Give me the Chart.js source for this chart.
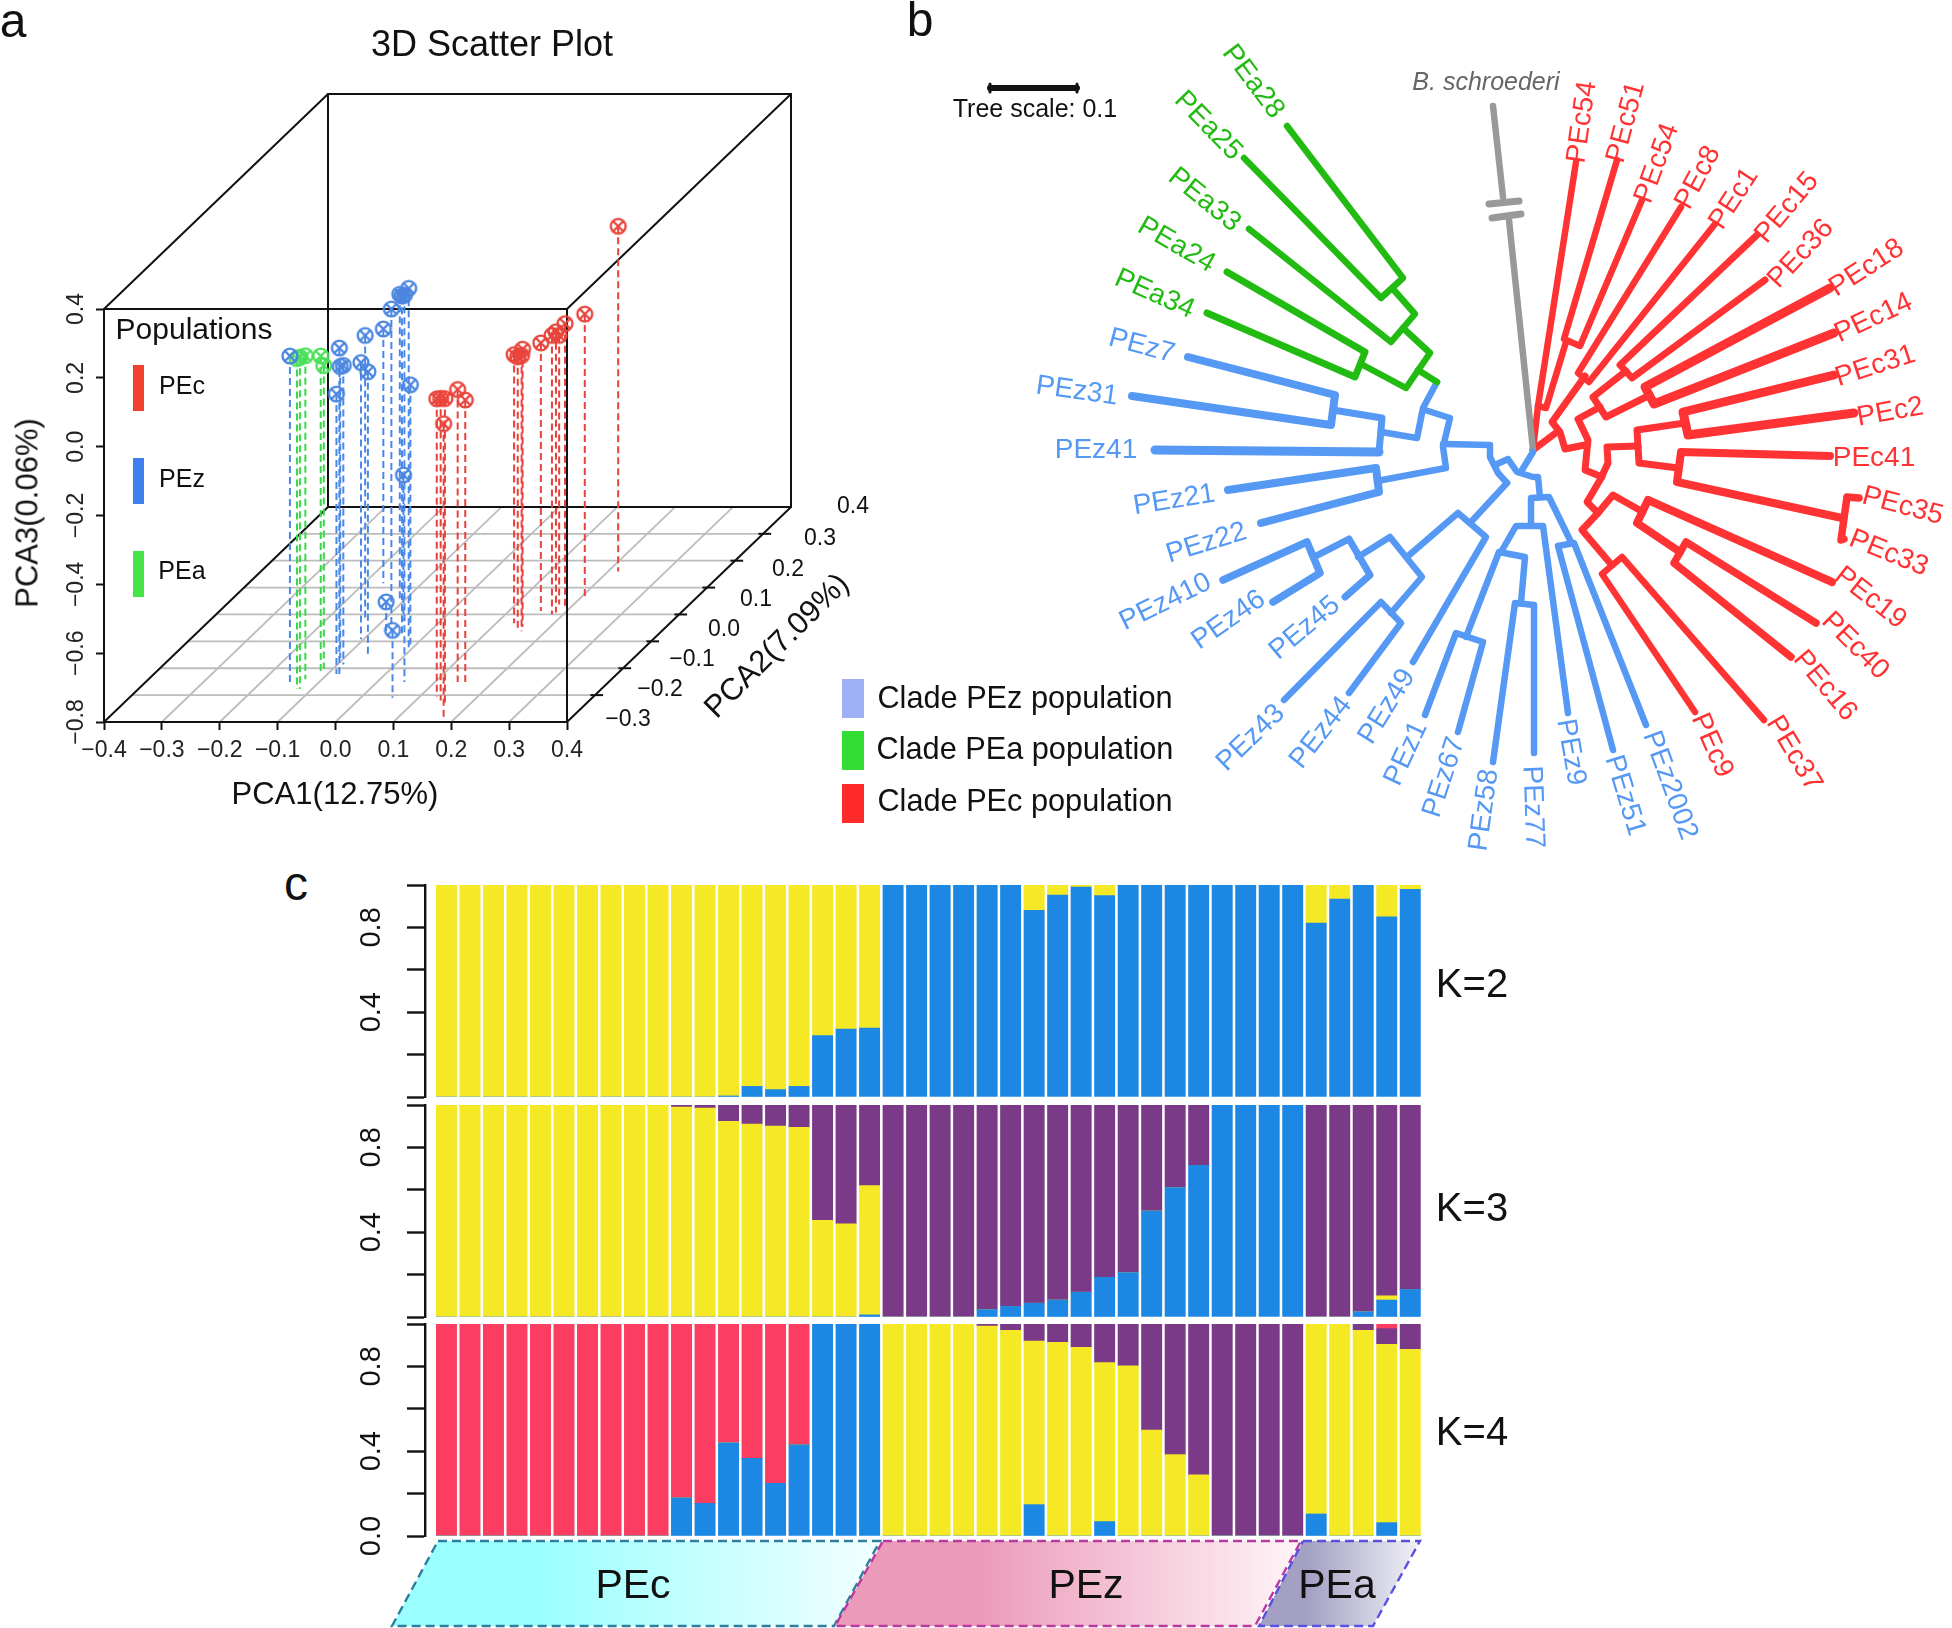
<!DOCTYPE html>
<html>
<head>
<meta charset="utf-8">
<title>PCA, tree and structure plots</title>
<script src="https://cdn.jsdelivr.net/npm/chart.js@4/dist/chart.umd.js"></script>
<style>
html, body { margin: 0; padding: 0; background: #fff; }
#page { position: relative; width: 1952px; height: 1628px; overflow: hidden; font-family: "Liberation Sans", Arial, sans-serif; }
#page canvas { position: absolute; }
.txt { position: absolute; white-space: nowrap; line-height: 1; transform-origin: center; color: #111; }
.swatch { position: absolute; }
</style>
</head>
<body>
<div id="page"></div>
<script>
// panel a, PCA coordinates
const pc1Red = [0.2175, 0.205, 0.19, 0.184, 0.18, 0.175, 0.155, 0.131, 0.158, 0.152, 0.147, 0.129, 0.16, 0.143, 0.139, 0.155, 0.182];
const pc2Red = [0.16, 0.0665, 0.027, 0.007, 0.001, 0.037, 0.013, -0.033, -0.062, -0.046, -0.053, -0.305, -0.34, -0.32, -0.251, -0.257, -0.39];
const pc3Red = [0.203, 0.021, 0.024, 0.016, 0.01, -0.018, -0.021, -0.019, 0.001, 0.007, -0.01, 0.065, 0.093, 0.078, 0.05, 0.024, 0.059];
const pc1Blue = [-0.146, -0.078, -0.085, -0.107, -0.09, -0.105, -0.064, -0.136, -0.167, -0.067, -0.11, 0.047, -0.008, -0.039, -0.01, -0.065, -0.076, 0.055];
const pc2Blue = [-0.261, -0.225, -0.221, -0.162, -0.186, -0.092, -0.152, -0.013, 0.116, -0.062, 0.057, -0.251, -0.122, -0.082, -0.112, -0.023, -0.062, -0.31];
const pc3Blue = [0.155, 0.15, 0.013, 0.047, 0.069, 0.004, 0.024, 0.021, -0.061, 0.136, 0.086, 0.324, 0.243, 0.189, -0.045, -0.3765, -0.715, -0.604];
const pc1Green = [-0.126, -0.129, -0.117, -0.116, -0.121];
const pc2Green = [-0.277, -0.241, -0.211, -0.202, -0.277];
const pc3Green = [0.16, 0.14, 0.116, 0.081, 0.164];
const pc1Ticks = [-0.3, -0.2, -0.1, 0, 0.1, 0.2, 0.3];
const pc2Ticks = [-0.3, -0.2, -0.1, 0, 0.1, 0.2, 0.3];
const pc2TickLabels = ['\u22120.3', '\u22120.2', '\u22120.1', '0.0', '0.1', '0.2', '0.3', '0.4'];

// panel b, tree branches as polylines
const treeRed = [
  [[1533,450],[1538,406]],
  [[1576,162],[1538,406],[1546,408],[1566,342]],
  [[1617,160],[1564,339],[1580,346],[1642,200]],
  [[1533,450],[1557,432]],
  [[1585,376],[1552,422],[1560,432],[1565,449],[1585,445]],
  [[1681,207],[1578,373],[1589,382],[1715,224]],
  [[1757,235],[1620,365],[1632,378],[1765,280]],
  [[1626,371],[1593,397],[1606,417],[1650,395]],
  [[1830,288],[1645,387],[1654,404],[1834,333]],
  [[1600,407],[1578,419],[1588,440],[1585,470],[1602,477]],
  [[1685,423],[1637,430],[1639,463],[1678,468]],
  [[1834,375],[1683,412],[1688,435],[1854,413]],
  [[1830,456],[1681,452],[1677,482],[1842,518]],
  [[1859,498],[1847,497],[1841,540],[1844,539]],
  [[1638,446],[1607,447],[1608,463],[1600,480],[1587,502],[1598,513]],
  [[1643,512],[1613,495],[1598,513],[1582,530],[1610,563]],
  [[1832,582],[1648,500],[1637,523],[1680,552]],
  [[1816,623],[1686,542],[1674,563],[1791,657]],
  [[1764,720],[1622,557],[1602,574],[1695,712]]
];
const treeBlue = [
  [[1533,452],[1522,470]],
  [[1540,497],[1538,477],[1533,477],[1517,472],[1508,459],[1495,465]],
  [[1507,483],[1498,473],[1490,457],[1490,445],[1443,444]],
  [[1437,382],[1423,408],[1417,438],[1381,432]],
  [[1155,450],[1379,452]],
  [[1379,452],[1382,418],[1333,410]],
  [[1188,357],[1335,395],[1331,425],[1132,396]],
  [[1425,410],[1450,418],[1443,447],[1446,468],[1377,481]],
  [[1228,490],[1376,468],[1379,492],[1261,523]],
  [[1507,483],[1470,523]],
  [[1407,557],[1458,513],[1486,537],[1413,662]],
  [[1358,557],[1390,537],[1422,577],[1391,613]],
  [[1314,557],[1349,539],[1370,575],[1345,597]],
  [[1223,580],[1307,542],[1320,573],[1273,602]],
  [[1284,700],[1381,602],[1401,623],[1349,693]],
  [[1531,525],[1531,498],[1549,497],[1571,542]],
  [[1501,552],[1516,526],[1543,526],[1568,713]],
  [[1466,637],[1499,552],[1525,557],[1521,603]],
  [[1425,715],[1456,633],[1483,642],[1458,732]],
  [[1493,762],[1515,603],[1534,605],[1534,753]],
  [[1613,750],[1558,546],[1574,543],[1646,725]]
];
const treeGreen = [
  [[1287,126],[1403,278],[1381,298],[1244,158]],
  [[1393,289],[1415,314],[1391,342],[1249,229]],
  [[1403,328],[1430,353],[1406,388],[1361,364]],
  [[1227,272],[1365,352],[1355,377],[1207,313]],
  [[1418,370],[1437,382]]
];
const treeGray = [
  [[1493,106],[1503,197]],
  [[1489,204],[1519,201]],
  [[1492,218],[1521,214]],
  [[1509,220],[1533,450]]
];
const treeScale = [[[990,88],[1077,88]], [[990,84],[990,92]], [[1077,84],[1077,92]]];
const redWidths = [6.5,6.5,6.5,7,7,6.5,7,7,9,7,7,9,8,7.5,7,7,8,7.5,6.5];
const blueWidths = [6.5,6.5,6.5,6.5,9,7,8,6.5,8,6.5,6.5,6.5,7,7.5,6.5,6.5,6.5,6.5,6.5,6.5,6.5];
const greenWidths = [6.5,6.5,6.5,7,6.5];
const grayWidths = [6.5,7,7,6.5];

const leafNames = ['PEa28','PEa25','PEa33','PEa24','PEa34','PEz7','PEz31','PEz41','PEz21','PEz22','PEz410','PEz46','PEz45','PEz43','PEz44','PEz49','PEz1','PEz67','PEz58','PEz77','PEz9','PEz51','PEz2002','PEc9','PEc37','PEc16','PEc40','PEc19','PEc33','PEc35','PEc41','PEc2','PEc31','PEc14','PEc18','PEc36','PEc15','PEc1','PEc8','PEc54','PEc51','PEc54'];
const leafX = [1254,1209,1205,1177,1155,1142,1077,1096,1174,1206,1165,1228,1304,1250,1320,1386,1405,1443,1483,1534,1572,1626,1671,1713,1795,1826,1856,1871,1889,1903,1874,1890,1875,1873,1866,1800,1786,1733,1697,1656,1625,1581];
const leafY = [81,125,199,244,293,345,390,449,499,542,601,619,627,737,732,706,753,777,810,807,752,795,785,745,753,685,645,597,552,505,457,411,365,317,267,253,207,198,177,163,122,122];
const leafAngle = [53,46,39,30,24,15,8,0,-9,-17,-26,-35,-40,-44,-52,-58,-65,-72,-82,88,80,73,70,66,59,50,45,38,22,15,0,-10,-18,-25,-33,-47,-50,-57,-62,-70,-75,-82];

// panel c, ancestry proportions per sample
const samples = [1,2,3,4,5,6,7,8,9,10,11,12,13,14,15,16,17,18,19,20,21,22,23,24,25,26,27,28,29,30,31,32,33,34,35,36,37,38,39,40,41,42];
const k2Blue = [0,0,0,0,0,0,0,0,0,0,0,0,0.005,0.05,0.035,0.05,0.29,0.32,0.325,1,1,1,1,1,1,0.88,0.953,0.99,0.95,1,1,1,1,1,1,1,1,0.82,0.934,1,0.85,0.98];
const k2Yellow = [1,1,1,1,1,1,1,1,1,1,1,1,0.995,0.95,0.965,0.95,0.71,0.68,0.675,0,0,0,0,0,0,0.12,0.047,0.01,0.05,0,0,0,0,0,0,0,0,0.18,0.066,0,0.15,0.02];
const k3Blue = [0,0,0,0,0,0,0,0,0,0,0,0,0,0,0,0,0,0,0.01,0,0,0,0,0.035,0.05,0.065,0.08,0.117,0.187,0.21,0.5,0.61,0.715,1,1,1,1,0,0,0.025,0.08,0.13];
const k3Yellow = [1,1,1,1,1,1,1,1,1,1,0.99,0.985,0.923,0.91,0.9,0.895,0.456,0.44,0.61,0,0,0,0,0,0,0,0,0,0,0,0,0,0,0,0,0,0,0,0,0,0.02,0];
const k3Purple = [0,0,0,0,0,0,0,0,0,0,0.01,0.015,0.077,0.09,0.1,0.105,0.544,0.56,0.38,1,1,1,1,0.965,0.95,0.935,0.92,0.883,0.813,0.79,0.5,0.39,0.285,0,0,0,0,1,1,0.975,0.9,0.87];
const k4Blue = [0,0,0,0,0,0,0,0,0,0,0.18,0.154,0.44,0.366,0.248,0.43,1,1,1,0,0,0,0,0,0,0.148,0,0,0.068,0,0,0,0,0,0,0,0,0.104,0,0,0.063,0];
const k4Yellow = [0,0,0,0,0,0,0,0,0,0,0,0,0,0,0,0,0,0,0,1,1,1,1,0.99,0.97,0.772,0.913,0.89,0.75,0.803,0.5,0.384,0.288,0,0,0,0,0.896,1,0.97,0.841,0.881];
const k4Purple = [0,0,0,0,0,0,0,0,0,0,0,0,0,0,0,0,0,0,0,0,0,0,0,0.01,0.03,0.08,0.087,0.11,0.182,0.197,0.5,0.616,0.712,1,1,1,1,0,0,0.03,0.074,0.119];
const k4Red = [1,1,1,1,1,1,1,1,1,1,0.82,0.846,0.56,0.634,0.752,0.57,0,0,0,0,0,0,0,0,0,0,0,0,0,0,0,0,0,0,0,0,0,0,0,0,0.022,0];

const YELLOW = '#F5E824', BLUE = '#1C88E4', PURPLE = '#7B3A88', PINK = '#FB3D62';
const page = document.getElementById('page');

function addCanvas(left, top, w, h) {
  const c = document.createElement('canvas');
  c.width = w; c.height = h;
  c.style.left = left + 'px'; c.style.top = top + 'px';
  c.style.width = w + 'px'; c.style.height = h + 'px';
  page.appendChild(c);
  return c;
}

function addText(str, x, y, size, angle, extra) {
  const el = document.createElement('div');
  el.className = 'txt';
  el.textContent = str;
  el.style.left = x + 'px';
  el.style.top = y + 'px';
  el.style.fontSize = size + 'px';
  el.style.transform = 'translate(-50%,-50%) rotate(' + (angle || 0) + 'deg)';
  Object.assign(el.style, extra || {});
  page.appendChild(el);
}

function addSwatch(x, y, w, h, color) {
  const el = document.createElement('div');
  el.className = 'swatch';
  el.style.cssText = `left:${x}px;top:${y}px;width:${w}px;height:${h}px;background:${color}`;
  page.appendChild(el);
}

function fmt(v) {
  const r = Math.abs(v) < 1e-9 ? 0 : v;
  return r.toFixed(1).replace('-', '\u2212');
}

// keep the layout from adding room for the end tick labels
function noAutoPad(s) {
  s.paddingTop = 0; s.paddingBottom = 0; s.paddingLeft = 0; s.paddingRight = 0;
}

// ---------- panel a ----------
// oblique projection: PCA2 moves a point right and up
function project(x, y, z) {
  return { x: x + (y + 0.4) * 0.4838, y: z + (y + 0.4) * 0.78125 };
}

function marker(color) {
  const c = document.createElement('canvas');
  c.width = 20; c.height = 20;
  const g = c.getContext('2d');
  g.strokeStyle = color; g.lineWidth = 2.4;
  g.beginPath(); g.arc(10, 10, 7.4, 0, Math.PI * 2); g.stroke();
  g.beginPath(); g.moveTo(5, 5); g.lineTo(15, 15); g.moveTo(15, 5); g.lineTo(5, 15); g.stroke();
  return c;
}

function line3d(pts, color, width, order, dash) {
  return {
    data: pts.map(p => project(p[0], p[1], p[2])),
    showLine: true, pointRadius: 0, borderColor: color, borderWidth: width,
    borderDash: dash || [], clip: false, order: order
  };
}

const cubeLines = [
  [[-0.4,-0.4,-0.8],[-0.4,-0.4,0.4],[0.4,-0.4,0.4],[0.4,-0.4,-0.8],[-0.4,-0.4,-0.8]],
  [[-0.4,0.4,-0.8],[-0.4,0.4,0.4],[0.4,0.4,0.4],[0.4,0.4,-0.8],[-0.4,0.4,-0.8]],
  [[-0.4,-0.4,-0.8],[-0.4,0.4,-0.8]],
  [[0.4,-0.4,-0.8],[0.4,0.4,-0.8]],
  [[-0.4,-0.4,0.4],[-0.4,0.4,0.4]],
  [[0.4,-0.4,0.4],[0.4,0.4,0.4]]
];

const aSets = [];
pc1Ticks.forEach(t => aSets.push(line3d([[t,-0.4,-0.8],[t,0.4,-0.8]], '#BDBDBD', 1.8, 9)));
pc2Ticks.forEach(t => aSets.push(line3d([[-0.4,t,-0.8],[0.4,t,-0.8]], '#BDBDBD', 1.8, 9)));
pc2Ticks.forEach(t => aSets.push(line3d([[0.392,t,-0.8],[0.414,t,-0.8]], '#111', 2, 8)));
cubeLines.forEach(l => aSets.push(line3d(l, '#111', 2, 7)));

[[pc1Blue, pc2Blue, pc3Blue, '#4A88E8', '#4B86E0'],
 [pc1Red, pc2Red, pc3Red, '#E8403A', '#E8453C'],
 [pc1Green, pc2Green, pc3Green, '#38D848', '#4DE05A']].forEach(([xs, ys, zs, lineCol, dotCol]) => {
  xs.forEach((x, i) => aSets.push(line3d([[x, ys[i], zs[i]], [x, ys[i], -0.8]], lineCol, 2, 5, [7, 4])));
  aSets.push({
    data: xs.map((x, i) => project(x, ys[i], zs[i])),
    showLine: false, pointStyle: marker(dotCol), pointRadius: 10, clip: false, order: 2
  });
});

new Chart(addCanvas(0, 0, 880, 830), {
  type: 'scatter',
  data: { datasets: aSets },
  options: {
    responsive: false, animation: false, devicePixelRatio: 1,
    layout: { autoPadding: false, padding: { left: 44, right: 50, top: 60, bottom: 48 } },
    plugins: { legend: { display: false }, tooltip: { enabled: false } },
    scales: {
      // the ranges run past 0.4 so the marks behind the front face stay inside the chart area
      x: {
        type: 'linear', min: -0.4, max: 0.8544,
        afterBuildTicks: s => { s.ticks = s.ticks.filter(t => t.value < 0.401); },
        afterFit: s => { s.height = 60; noAutoPad(s); },
        border: { display: false },
        grid: { drawOnChartArea: false, tickColor: '#111', tickLength: 8, tickWidth: 2 },
        ticks: { stepSize: 0.1, autoSkip: false, padding: 7, maxRotation: 0, color: '#222', font: { family: 'Liberation Sans', size: 23 }, callback: v => fmt(v) }
      },
      y: {
        type: 'linear', min: -0.8, max: 1.1238,
        afterBuildTicks: s => { s.ticks = s.ticks.filter(t => t.value < 0.401); },
        afterFit: s => { s.width = 60; noAutoPad(s); },
        border: { display: false },
        grid: { drawOnChartArea: false, tickColor: '#111', tickLength: 8, tickWidth: 2 },
        ticks: { stepSize: 0.2, autoSkip: false, padding: -3, minRotation: 90, maxRotation: 90, crossAlign: 'center', color: '#222', font: { family: 'Liberation Sans', size: 23 }, callback: v => fmt(v) }
      }
    }
  }
});

addText('a', 13, 21, 48);
addText('3D Scatter Plot', 492, 44, 36);
addText('Populations', 194, 329, 30);
addText('PEc', 182, 385, 25);
addText('PEz', 182, 478, 25);
addText('PEa', 182, 570, 25);
addSwatch(133, 365, 11, 46, '#F04030');
addSwatch(133, 458, 11, 46, '#3F7FEF');
addSwatch(133, 551, 11, 46, '#45E54A');
addText('PCA1(12.75%)', 335, 793, 31);
addText('PCA3(0.06%)', 27, 513, 31, -90);
addText('PCA2(7.09%)', 776, 645, 31, -45);
const pc2LabelX = [628, 660, 692, 724, 756, 788, 820, 853];
const pc2LabelY = [718, 688, 658, 628, 598, 568, 537, 505];
pc2TickLabels.forEach((t, i) => addText(t, pc2LabelX[i], pc2LabelY[i], 23));

// ---------- panel b ----------
function treeSets(paths, color, widths) {
  return paths.map((p, i) => ({
    data: p.map(q => ({ x: q[0], y: q[1] })),
    showLine: true, pointRadius: 0, borderColor: color, borderWidth: widths[i],
    borderCapStyle: 'round', borderJoinStyle: 'round', clip: false
  }));
}

const bSets = [].concat(
  treeSets(treeGreen, '#22BB11', greenWidths),
  treeSets(treeBlue, '#5599F5', blueWidths),
  treeSets(treeGray, '#999999', grayWidths),
  treeSets(treeRed, '#FF3333', redWidths),
  treeSets(treeScale, '#111111', [6, 3, 3])
);

new Chart(addCanvas(880, 0, 1072, 850), {
  type: 'scatter',
  data: { datasets: bSets },
  options: {
    responsive: false, animation: false, devicePixelRatio: 1,
    layout: { autoPadding: false, padding: 0 },
    plugins: { legend: { display: false }, tooltip: { enabled: false } },
    scales: {
      x: { type: 'linear', display: false, min: 880, max: 1952 },
      y: { type: 'linear', display: false, min: 0, max: 850, reverse: true }
    }
  }
});

addText('b', 920, 20, 48);
addText('Tree scale: 0.1', 1035, 108, 25);
addText('B. schroederi', 1486, 81, 25, 0, { fontStyle: 'italic', color: '#666' });
const cladeColor = { a: '#22BB11', z: '#5599F5', c: '#FF3333' };
leafNames.forEach((n, i) => addText(n, leafX[i], leafY[i], 28, leafAngle[i], { color: cladeColor[n[2]] }));

addSwatch(842, 679, 22, 39, '#9DB0F5');
addSwatch(842, 731, 22, 39, '#33DD33');
addSwatch(842, 784, 22, 39, '#FF2A2A');
addText('Clade PEz population', 1025, 698, 30.7);
addText('Clade PEa population', 1025, 749, 30.7);
addText('Clade PEc population', 1025, 801, 30.7);

// ---------- panel c ----------
function structureChart(top, series, colors, showZero) {
  new Chart(addCanvas(340, top - 10, 1100, 252), {
    type: 'bar',
    data: {
      datasets: series.map((vals, j) => ({
        data: samples.map((s, i) => ({ x: s, y: vals[i] })),
        backgroundColor: colors[j], barThickness: 20.3, borderWidth: 0
      }))
    },
    options: {
      responsive: false, animation: false, devicePixelRatio: 1,
      layout: { autoPadding: false, padding: { left: 0, right: 18, top: 10, bottom: 30 } },
      plugins: { legend: { display: false }, tooltip: { enabled: false } },
      scales: {
        x: { type: 'linear', display: false, stacked: true, offset: false, min: 0.087, max: 42.5 },
        y: {
          stacked: true, min: 0, max: 1,
          afterFit: s => { s.width = 85; noAutoPad(s); },
          border: { color: '#111', width: 2.4 },
          grid: { drawOnChartArea: false, tickColor: '#111', tickLength: 18, tickWidth: 2.4 },
          ticks: {
            stepSize: 0.2, autoSkip: false, padding: 15, minRotation: 90, maxRotation: 90, crossAlign: 'center',
            color: '#111', font: { family: 'Liberation Sans', size: 29 },
            callback: v => {
              const r = Math.round(v * 10) / 10;
              if (r === 0.8 || r === 0.4 || (showZero && r === 0)) return r.toFixed(1);
              return '';
            }
          }
        }
      }
    }
  });
}

structureChart(885, [k2Blue, k2Yellow], [BLUE, YELLOW], false);
structureChart(1105, [k3Blue, k3Yellow, k3Purple], [BLUE, YELLOW, PURPLE], false);
structureChart(1324, [k4Blue, k4Yellow, k4Purple, k4Red], [BLUE, YELLOW, PURPLE, PINK], true);

addText('c', 296, 884, 48);
addText('K=2', 1472, 983, 40);
addText('K=3', 1472, 1207, 40);
addText('K=4', 1472, 1431, 40);

// population bands below the bars
const bandPEc = [[438,1541],[880,1541],[834,1626],[392,1626],[438,1541]];
const bandPEz = [[883,1541],[1301,1541],[1255,1626],[835,1626],[883,1541]];
const bandPEa = [[1303,1541],[1420,1541],[1373,1626],[1259,1626],[1303,1541]];

const bandCanvas = addCanvas(380, 1536, 1060, 92);
function bandFill(x0, x1, from, to) {
  const g = bandCanvas.getContext('2d').createLinearGradient(x0 - 380, 0, x1 - 380, 0);
  g.addColorStop(0, from); g.addColorStop(0.3, from); g.addColorStop(1, to);
  return g;
}
function bandSet(pts, fill, line) {
  return {
    data: pts.map(p => ({ x: p[0], y: p[1] })),
    showLine: true, pointRadius: 0, fill: 'shape', backgroundColor: fill,
    borderColor: line, borderWidth: 2.4, borderDash: [9, 5], clip: false
  };
}
new Chart(bandCanvas, {
  type: 'scatter',
  data: {
    datasets: [
      bandSet(bandPEa, bandFill(1259, 1420, '#A3A0C4', '#F2F2F7'), '#5A50E0'),
      bandSet(bandPEz, bandFill(835, 1301, '#EB9AB9', '#FFF5F8'), '#B83AA0'),
      bandSet(bandPEc, bandFill(392, 880, '#9CFFFF', '#F2FFFF'), '#2E7F9E')
    ]
  },
  options: {
    responsive: false, animation: false, devicePixelRatio: 1,
    layout: { autoPadding: false, padding: 0 },
    plugins: { legend: { display: false }, tooltip: { enabled: false } },
    scales: {
      x: { type: 'linear', display: false, min: 380, max: 1440 },
      y: { type: 'linear', display: false, min: 1536, max: 1628, reverse: true }
    }
  }
});
addText('PEc', 633, 1584, 41);
addText('PEz', 1086, 1584, 41);
addText('PEa', 1337, 1584, 41);
</script>
</body>
</html>
